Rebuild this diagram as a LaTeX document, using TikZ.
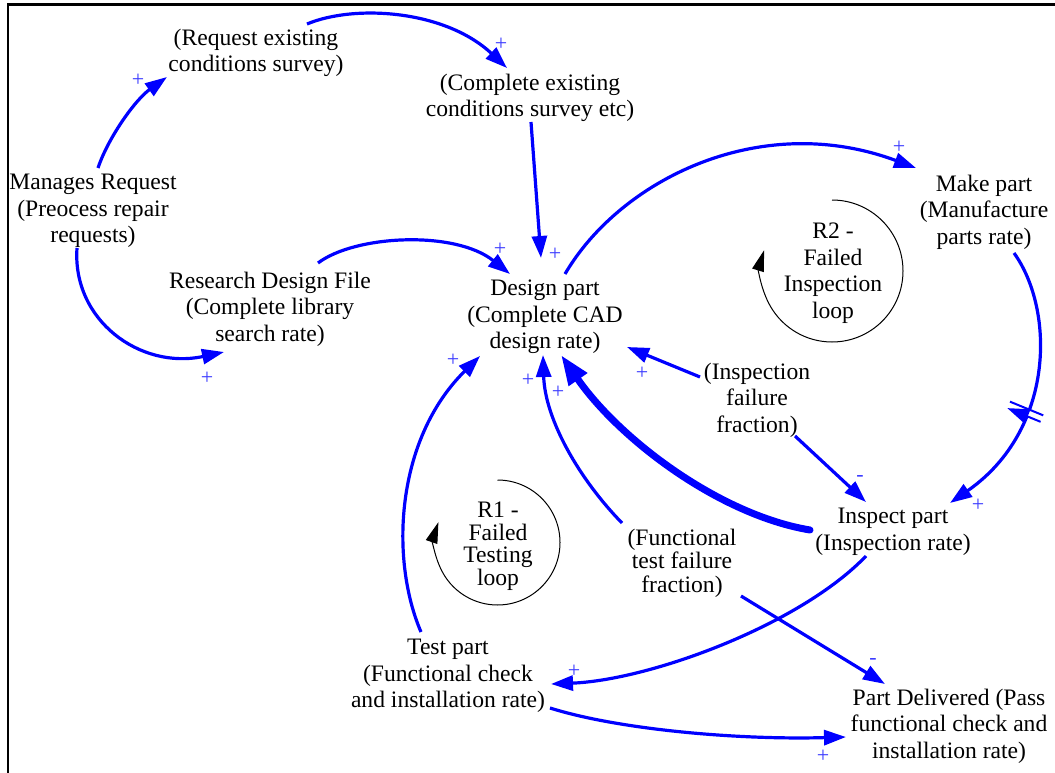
\documentclass[tikz,border=0pt]{standalone}
\usepackage{fontspec}
\setmainfont{Liberation Serif}
\usetikzlibrary{arrows.meta,decorations.markings}

\definecolor{linkblue}{RGB}{0,0,255}
\definecolor{signblue}{RGB}{60,60,255}

\begin{document}
\begin{tikzpicture}[x=1pt,y=-1pt,
  var/.style={align=center,inner sep=0pt,font=\fontsize{23.6}{26.5}\selectfont},
  tightvar/.style={var,font=\fontsize{23.6}{23.5}\selectfont},
  looplabel/.style={var,font=\fontsize{23.6}{22.5}\selectfont},
  link/.style={draw=linkblue,line width=3.2pt,-{Triangle[length=22pt,width=15pt]}},
  strong/.style={link,line width=7pt,line cap=round,-{Triangle[length=30pt,width=21pt]}},
  sign/.style={text=signblue,inner sep=0pt,font=\fontsize{22}{22}\selectfont},
  loopline/.style={draw=black,line width=1pt,-{Triangle[length=21pt,width=12pt]}},
  delaymark/.style={postaction={decorate,decoration={markings,
    mark=at position #1 with {
      \fill[white] (-3,-9) rectangle (3,9);
      \draw[linkblue,line width=2pt] (-3.5,-18) -- (-3.5,18) (3.5,-18) -- (3.5,18);}}}},
]
\useasboundingbox (0,0) rectangle (1055,773);

% frame (open at right and bottom)
\draw[line width=2.5pt] (8,773) -- (8,4.5) -- (1055,4.5);

% variables
\node[var] (ms)  at (93,211)  {Manages Request\\(Preocess repair\\requests)};
\node[var] (rq)  at (256,53)  {(Request existing\\conditions survey)};
\node[var] (cs)  at (530,98)  {(Complete existing\\conditions survey etc)};
\node[var] (rd)  at (270,309) {Research Design File\\(Complete library\\search rate)};
\node[var] (dp)  at (545,317) {Design part\\(Complete CAD\\design rate)};
\node[var] (mp)  at (984,212) {Make part\\(Manufacture\\parts rate)};
\node[var] (iff) at (757,400) {(Inspection\\failure\\fraction)};
\node[var] (ip)  at (893,532) {Inspect part\\(Inspection rate)};
\node[tightvar] (ff) at (682,563) {(Functional\\test failure\\fraction)};
\node[var] (tp)  at (448,676) {Test part\\(Functional check\\and installation rate)};
\node[var] (pd)  at (949,726) {Part Delivered (Pass\\functional check and\\installation rate)};

% loop labels
\node[var] (r2) at (833,273) {R2 -\\Failed\\Inspection\\loop};
\node[looplabel] (r1) at (498,546) {R1 -\\Failed\\Testing\\loop};
\coordinate (r2c) at (832,271);
\coordinate (r1c) at (497.5,542.5);
\draw[loopline] ([shift={(-90:71)}]r2c) arc[start angle=-90,end angle=197,radius=71];
\draw[loopline] ([shift={(-90:62.5)}]r1c) arc[start angle=-90,end angle=199,radius=62.5];

% causal links
\draw[link] ([shift={(5,-43)}]ms.center) .. controls +(10,-30) and +(-32,23) .. ([shift={(-89,24)}]rq.center);
\draw[link] ([shift={(51,-29)}]rq.center) .. controls +(48,-20) and +(-62,-58) .. ([shift={(-23,-30)}]cs.center);
\draw[link] ([shift={(1,24)}]cs.center) -- ([shift={(-4,-59)}]dp.center);
\draw[link] ([shift={(-16,37)}]ms.center) .. controls +(-5,72) and +(-84,18) .. ([shift={(-46,43)}]rd.center);
\draw[link] ([shift={(48,-46)}]rd.center) .. controls +(37,-28) and +(-55,-44) .. ([shift={(-35,-43)}]dp.center);
\draw[link] ([shift={(20,-43)}]dp.center) .. controls +(55,-94) and +(-156,-58) .. ([shift={(-68,-44)}]mp.center);
\draw[link,delaymark=0.58] ([shift={(30,41)}]mp.center) .. controls +(41,57) and +(105,-73) .. ([shift={(57,-29)}]ip.center);
\draw[link] ([shift={(-57,-23)}]iff.center) -- ([shift={(82,30)}]dp.center);
\draw[link] ([shift={(38,36)}]iff.center) -- ([shift={(-27,-30)}]ip.center);
\draw[strong] ([shift={(-83,-2)}]ip.center) .. controls +(-90,-15) and +(59,85) .. ([shift={(16,38)}]dp.center);
\draw[link] ([shift={(-60,-40)}]ff.center) .. controls +(-42,-43) and +(2,65) .. ([shift={(-2,38)}]dp.center);
\draw[link] ([shift={(-27,-44)}]tp.center) .. controls +(-31,-72) and +(-85,84) .. ([shift={(-65,39)}]dp.center);
\draw[link] ([shift={(-27,24)}]ip.center) .. controls +(-66,69) and +(99,-4) .. ([shift={(103,8)}]tp.center);
\draw[link] ([shift={(59,33)}]ff.center) -- ([shift={(-64,-42)}]pd.center);
\draw[link] ([shift={(102,32)}]tp.center) .. controls +(70,22) and +(-106,3) .. ([shift={(-103,11)}]pd.center);

% polarities
\node[sign] (p1)  at (138,80)  {+};
\node[sign] (p2)  at (501,44)  {+};
\node[sign] (p3)  at (555,254) {+};
\node[sign] (p4)  at (207,378) {+};
\node[sign] (p5)  at (500,249) {+};
\node[sign] (p6)  at (899,147) {+};
\node[sign] (p7)  at (978,505) {+};
\node[sign] (p8)  at (642,373) {+};
\node[sign] (p9)  at (860,478) {-};
\node[sign] (p10) at (528,380) {+};
\node[sign] (p11) at (558,392) {+};
\node[sign] (p12) at (453,360) {+};
\node[sign] (p13) at (574,671) {+};
\node[sign] (p14) at (873,661) {-};
\node[sign] (p15) at (823,756) {+};
\end{tikzpicture}
\end{document}
